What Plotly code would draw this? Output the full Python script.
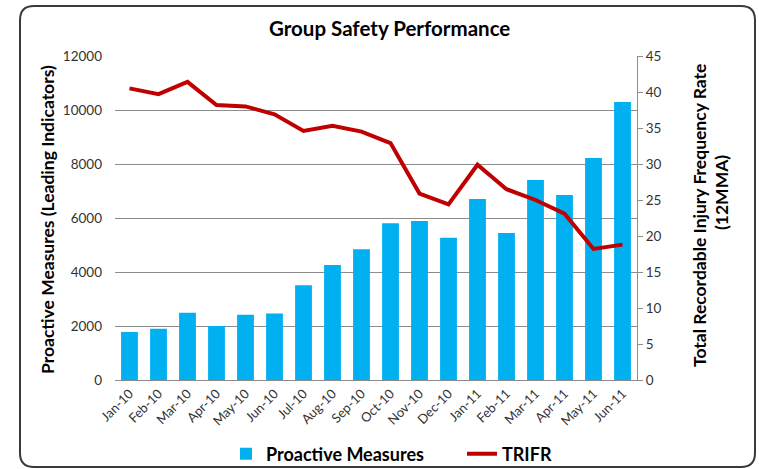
import plotly.graph_objects as go

months = ["Jan-10", "Feb-10", "Mar-10", "Apr-10", "May-10", "Jun-10", "Jul-10", "Aug-10", "Sep-10",
          "Oct-10", "Nov-10", "Dec-10", "Jan-11", "Feb-11", "Mar-11", "Apr-11", "May-11", "Jun-11"]
proactive = [1780, 1900, 2490, 2000, 2420, 2460, 3510, 4260, 4840,
             5810, 5890, 5270, 6700, 5440, 7410, 6850, 8220, 10300]
trifr = [40.5, 39.7, 41.4, 38.2, 38.0, 36.9, 34.6, 35.3, 34.5,
         32.9, 25.9, 24.4, 29.9, 26.5, 25.0, 23.1, 18.2, 18.8]

FONT = "Lato, 'Open Sans', sans-serif"
L, R, T, B = 115, 122, 56, 89
W, H = 759, 469
pw, ph = W - L - R, H - T - B

def px(x):
    return (x - L) / pw

def py(y):
    return (H - B - y) / ph

fig = go.Figure()
fig.add_trace(go.Bar(x=months, y=proactive, name="<b>Proactive Measures</b>",
                     marker=dict(color="#00B0F0", line=dict(width=0)), yaxis="y"))
fig.add_trace(go.Scatter(x=months, y=trifr, name="<b>TRIFR</b>", mode="lines",
                         line=dict(color="#C00000", width=4), yaxis="y2"))

# rounded border
x0, x1, y0, y1 = px(20), px(755), py(467), py(6)
rx, ry = 14 / pw, 14 / ph
path = (f"M {x0+rx},{y1} L {x1-rx},{y1} Q {x1},{y1} {x1},{y1-ry} "
        f"L {x1},{y0+ry} Q {x1},{y0} {x1-rx},{y0} L {x0+rx},{y0} Q {x0},{y0} {x0},{y0+ry} "
        f"L {x0},{y1-ry} Q {x0},{y1} {x0+rx},{y1} Z")
fig.add_shape(type="path", path=path, xref="paper", yref="paper",
              line=dict(color="#3a3a3a", width=2), layer="below")

def ann(text, x, y, size, angle=0):
    fig.add_annotation(text=text, xref="paper", yref="paper", x=px(x), y=py(y),
                       xanchor="center", yanchor="middle", textangle=angle, showarrow=False,
                       font=dict(size=size, color="black", family=FONT))

ann("<b>Group Safety Performance</b>", 389, 28, 20.5)
ann("<b>Proactive Measures (Leading Indicators)</b>", 47, 220, 17.5, -90)
ann("<b>Total Recordable Injury Frequency Rate</b>", 699, 216, 17.5, -90)
ann("<b>(12MMA)</b>", 721, 193, 17.5, -90)

fig.update_layout(
    width=W, height=H,
    margin=dict(l=L, r=R, t=T, b=B, autoexpand=False),
    paper_bgcolor="white", plot_bgcolor="white",
    font=dict(family=FONT, color="#333333"),
    bargap=0.42,
    showlegend=True,
    legend=dict(orientation="h", x=px(226), xanchor="left", y=py(454), yanchor="middle",
                font=dict(size=18, color="black", family=FONT), entrywidth=191,
                bgcolor="rgba(0,0,0,0)", traceorder="normal"),
    xaxis=dict(tickangle=-45, tickfont=dict(size=13, color="#333333"), showline=True,
               linecolor="#8c8c8c", linewidth=1, ticks="", showgrid=False, automargin=False),
    yaxis=dict(range=[0, 12000], dtick=2000, tickformat="d", showgrid=True, gridcolor="#8c8c8c",
               gridwidth=1, tickfont=dict(size=13.5, color="#333333"), showline=False, zeroline=False,
               ticks="", ticklabelstandoff=12, automargin=False),
    yaxis2=dict(range=[0, 45], dtick=5, overlaying="y", side="right", showgrid=False,
                showline=True, linecolor="#8c8c8c", linewidth=1, ticks="outside", ticklen=5,
                tickcolor="#8c8c8c", tickfont=dict(size=13.5, color="#333333"), zeroline=False,
                automargin=False),
)

fig.write_html("out.html", config={"displayModeBar": False},
               post_script="document.body.style.margin='0';document.body.style.overflow='hidden';")
